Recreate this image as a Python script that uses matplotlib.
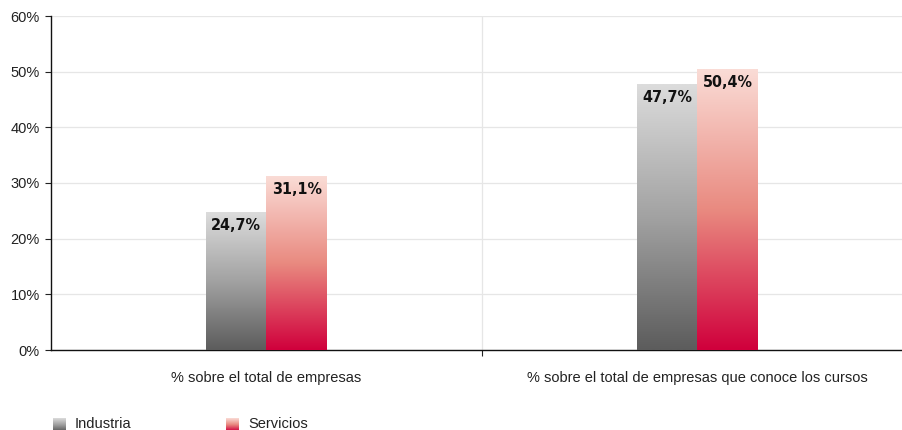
import numpy as np
import matplotlib
matplotlib.use("Agg")
import matplotlib.pyplot as plt
from matplotlib.colors import LinearSegmentedColormap
from matplotlib import font_manager as fm

categories = ["% sobre el total de empresas",
              "% sobre el total de empresas que conoce los cursos"]
series_names = ["Industria", "Servicios"]
industria = [24.7, 47.7]
servicios = [31.1, 50.4]
yticks = [0, 10, 20, 30, 40, 50, 60]

gray_cmap = LinearSegmentedColormap.from_list("gray_grad", ["#5c5c5c", "#a2a2a2", "#dcdcdc"])
red_cmap = LinearSegmentedColormap.from_list("red_grad", ["#d0003c", "#e98a80", "#fadcd6"])

# pick a condensed bold face for the value labels if one is available
cond = [f for f in fm.fontManager.ttflist
        if "condensed" in f.fname.lower() and "bold" in f.fname.lower()
        and "oblique" not in f.fname.lower() and "italic" not in f.fname.lower()]
if cond:
    label_fp = fm.FontProperties(fname=cond[0].fname, size=11.5)
else:
    label_fp = fm.FontProperties(family="DejaVu Sans", weight="bold", size=10)

fig = plt.figure(figsize=(9.03, 4.30), dpi=100)
W, H = 903, 430
ax = fig.add_axes([51 / W, (H - 350) / H, (913 - 51) / W, (350 - 16) / H])

x = np.arange(len(categories))
bw = 0.1415
bars_i = ax.bar(x - bw / 2, industria, width=bw, color="none", zorder=3)
bars_s = ax.bar(x + bw / 2, servicios, width=bw, color="none", zorder=3)

grad = np.linspace(0, 1, 256).reshape(-1, 1)
for bars, cmap in ((bars_i, gray_cmap), (bars_s, red_cmap)):
    for r in bars:
        x0, h = r.get_x(), r.get_height()
        ax.imshow(grad, cmap=cmap, origin="lower", aspect="auto",
                  extent=[x0, x0 + r.get_width(), 0, h], zorder=3,
                  interpolation="bilinear")

for bars, vals in ((bars_i, industria), (bars_s, servicios)):
    for r, v in zip(bars, vals):
        ax.annotate(f"{v:.1f}%".replace(".", ","),
                    (r.get_x() + r.get_width() / 2, r.get_height()),
                    xytext=(0, -4), textcoords="offset points",
                    ha="center", va="top", color="#111111", zorder=5,
                    fontproperties=label_fp)

txt_font = ["Liberation Sans", "DejaVu Sans"]
ax.set_xlim(-0.5, 1.5)
ax.set_ylim(0, 60)
ax.set_yticks(yticks)
ax.set_yticklabels([f"{t}%" for t in yticks], fontsize=10.5, family=txt_font, color="#222222")
ax.set_xticks(x)
ax.set_xticklabels(categories, fontsize=10.5, family=txt_font, color="#222222")
ax.tick_params(axis="x", length=0, pad=15)
ax.tick_params(axis="y", length=4, width=0.8, pad=4, color="#222222")

# horizontal gridlines and category divider
ax.grid(axis="y", color="#e6e6e6", linewidth=0.9, zorder=0)
ax.axvline(0.5, color="#e6e6e6", linewidth=0.9, zorder=0)
ax.set_xticks([0.5], minor=True)
ax.tick_params(axis="x", which="minor", length=4, width=0.8, color="#222222", direction="out")
ax.set_axisbelow(True)

for s in ("top", "right"):
    ax.spines[s].set_visible(False)
for s in ("left", "bottom"):
    ax.spines[s].set_color("#111111")
    ax.spines[s].set_linewidth(1.0)

# legend swatches with gradients
for name, cmap, sx in ((series_names[0], gray_cmap, 53), (series_names[1], red_cmap, 226)):
    sax = fig.add_axes([sx / W, (H - 431) / H, 13 / W, 13 / H])
    sax.imshow(grad, cmap=cmap, origin="lower", aspect="auto", interpolation="bilinear")
    sax.axis("off")
    fig.text((sx + 22) / W, (H - 424) / H, name, fontsize=10.5,
             family=txt_font, color="#222222", va="center")

fig.savefig("out.png", dpi=100)
